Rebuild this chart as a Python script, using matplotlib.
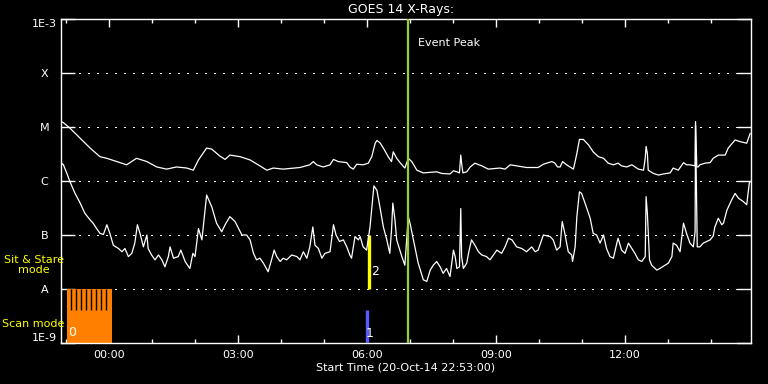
import numpy as np
import matplotlib
matplotlib.use("Agg")
import matplotlib.pyplot as plt
from matplotlib.ticker import FixedLocator, MultipleLocator, NullLocator, FuncFormatter

# time in hours from 00:00 on 21-Oct-14 (start 20-Oct 22:53), flux as log10(W/m^2)
t_start, t_end = -53 / 60 - 14 / 60, 14.93
event_peak = 6.95

# GOES 14 long channel (upper curve)
long_t = [-1.12, -1.06, -0.91, -0.67, -0.44, -0.21, -0.05, 0.18, 0.41, 0.64, 0.88, 1.11, 1.34, 1.57, 1.81,
          1.96, 2.08, 2.27, 2.39, 2.58, 2.70, 2.81, 3.05, 3.28, 3.51,
          3.67, 3.82, 4.05, 4.44, 4.67, 4.75, 4.83, 4.98, 5.14, 5.22, 5.33, 5.53, 5.60, 5.68, 5.76, 5.91,
          6.03, 6.11, 6.19, 6.23, 6.30, 6.38, 6.50, 6.57, 6.61, 6.69, 6.81, 6.88, 6.96, 7.04, 7.16, 7.31,
          7.62, 7.74, 7.93,
          8.01, 8.09, 8.15, 8.18, 8.20, 8.23, 8.32, 8.40, 8.51, 8.67, 8.82, 9.09, 9.21, 9.33, 9.48, 9.71,
          9.98, 10.10, 10.30, 10.37, 10.43, 10.49, 10.55, 10.64, 10.80,
          10.84, 10.88, 10.94, 11.03, 11.15, 11.26, 11.38, 11.50, 11.61, 11.73, 11.84, 11.92, 12.04, 12.16,
          12.31, 12.43, 12.47, 12.49, 12.52, 12.54, 12.66, 12.78, 12.89, 13.05, 13.12, 13.24, 13.36, 13.43,
          13.51, 13.63, 13.64, 13.67, 13.70, 13.74, 13.86, 13.98, 14.05, 14.17, 14.33, 14.40, 14.56, 14.67,
          14.83, 14.91]
long_logf = [-4.90, -4.92, -5.02, -5.21, -5.39, -5.55, -5.58, -5.64, -5.70, -5.58, -5.64, -5.74, -5.78, -5.74,
             -5.76, -5.80, -5.61, -5.39, -5.41, -5.54, -5.60, -5.52, -5.55, -5.61, -5.72,
             -5.80, -5.76, -5.78, -5.75, -5.70, -5.64, -5.70, -5.74, -5.70, -5.60, -5.64, -5.66, -5.74, -5.78,
             -5.69, -5.70, -5.67, -5.55, -5.30, -5.25, -5.29, -5.39, -5.56, -5.64, -5.46, -5.58, -5.70, -5.76,
             -5.58, -5.64, -5.80, -5.85, -5.83, -5.86, -5.87,
             -5.81, -5.83, -5.85, -5.52, -5.67, -5.85, -5.83, -5.74, -5.67, -5.72, -5.78, -5.76, -5.78, -5.70,
             -5.72, -5.75, -5.75, -5.69, -5.64, -5.67, -5.74, -5.74, -5.64, -5.70, -5.78,
             -5.64, -5.49, -5.23, -5.23, -5.33, -5.46, -5.55, -5.58, -5.67, -5.70, -5.67, -5.72, -5.74, -5.70,
             -5.78, -5.80, -5.58, -5.36, -5.49, -5.80, -5.86, -5.89, -5.87, -5.85, -5.76, -5.80, -5.66, -5.70,
             -5.70, -5.72, -4.90, -5.74, -5.74, -5.70, -5.67, -5.66, -5.58, -5.52, -5.52, -5.39, -5.24, -5.27,
             -5.30, -5.12]

# GOES 14 short channel (lower curve)
short_t = [-1.12, -1.06, -0.98, -0.91, -0.79, -0.67, -0.56, -0.44, -0.37, -0.29, -0.21, -0.13, -0.05, 0.02,
           0.10, 0.22, 0.30, 0.37, 0.45, 0.53, 0.60, 0.66, 0.72, 0.80, 0.88, 0.91, 0.99, 1.07, 1.15, 1.23,
           1.30, 1.38, 1.42, 1.50, 1.61, 1.67, 1.77, 1.88, 1.95, 2.00, 2.08, 2.16, 2.27, 2.39, 2.50, 2.62,
           2.70, 2.81, 2.93, 3.09, 3.20, 3.28, 3.36, 3.43, 3.51,
           3.59, 3.70, 3.78, 3.84, 3.90, 3.98, 4.05, 4.13, 4.25, 4.37, 4.44, 4.52, 4.60, 4.67, 4.74, 4.79,
           4.87, 4.95, 5.02, 5.14, 5.22, 5.28, 5.36, 5.45, 5.53, 5.60, 5.64, 5.72, 5.80, 5.84, 5.91, 5.99,
           6.07, 6.16, 6.23, 6.30, 6.38, 6.46, 6.53, 6.57, 6.60, 6.65, 6.69, 6.81, 6.88, 6.96, 7.00, 7.08,
           7.19, 7.31, 7.39, 7.47, 7.54, 7.62, 7.70, 7.77, 7.85, 7.93,
           8.01, 8.05, 8.09, 8.15, 8.18, 8.20, 8.24, 8.32, 8.36, 8.43, 8.51, 8.59, 8.67, 8.78, 8.86, 8.94,
           9.02, 9.13, 9.21, 9.29, 9.37, 9.48, 9.60, 9.71, 9.83, 9.91, 9.98, 10.06, 10.10, 10.26,
           10.33, 10.41, 10.49, 10.54, 10.60, 10.68, 10.76, 10.78, 10.84, 10.88, 10.94, 10.99, 11.07, 11.19,
           11.26, 11.34, 11.42, 11.50, 11.57, 11.65, 11.73, 11.81, 11.84, 11.92, 12.00, 12.08, 12.16, 12.23,
           12.31, 12.39, 12.47, 12.49, 12.52, 12.57, 12.62, 12.74, 12.81, 12.93, 13.01, 13.09, 13.12, 13.20,
           13.28, 13.36, 13.43, 13.51, 13.59, 13.63, 13.64, 13.68, 13.74, 13.82, 13.98, 14.05, 14.09, 14.17,
           14.25, 14.29, 14.37, 14.48, 14.56, 14.64, 14.75, 14.83, 14.89, 14.91]
short_logf = [-5.66, -5.70, -5.86, -6.01, -6.23, -6.41, -6.60, -6.72, -6.78, -6.88, -6.97, -6.99, -6.81, -6.97,
              -7.19, -7.25, -7.31, -7.25, -7.40, -7.34, -7.15, -6.81, -6.97, -7.22, -7.00, -7.25, -7.37, -7.46,
              -7.37, -7.46, -7.59, -7.40, -7.22, -7.43, -7.40, -7.28, -7.49, -7.62, -7.34, -7.40, -6.88, -7.09,
              -6.26, -6.48, -6.78, -6.94, -6.81, -6.66, -6.75, -7.00, -7.00, -7.09, -7.34, -7.46, -7.43,
              -7.52, -7.68, -7.46, -7.28, -7.40, -7.49, -7.43, -7.46, -7.37, -7.40, -7.46, -7.31, -7.43, -7.22,
              -6.85, -7.19, -7.25, -7.43, -7.34, -7.31, -6.81, -7.00, -7.12, -7.09, -7.22, -7.37, -7.43, -7.03,
              -7.09, -7.03, -7.22, -7.28, -6.85, -6.09, -6.17, -6.48, -6.85, -7.09, -7.34, -6.91, -6.41, -6.72,
              -7.09, -7.40, -7.56, -6.66, -6.78, -7.09, -7.52, -7.83, -7.86, -7.65, -7.56, -7.49, -7.59, -7.71,
              -7.62, -7.77,
              -7.28, -7.40, -7.62, -7.59, -6.51, -7.40, -7.62, -7.52, -7.34, -7.09, -7.19, -7.31, -7.37, -7.40,
              -7.46, -7.37, -7.28, -7.34, -7.22, -7.06, -7.09, -7.22, -7.25, -7.31, -7.22, -7.31, -7.28, -7.09,
              -7.00, -7.03,
              -7.09, -7.28, -7.22, -6.75, -6.97, -7.31, -7.37, -7.49, -7.22, -6.66, -6.20, -6.23, -6.41, -6.69,
              -6.97, -7.00, -7.15, -7.00, -7.25, -7.40, -7.43, -7.15, -7.06, -7.28, -7.34, -7.15, -7.25, -7.34,
              -7.46, -7.49, -7.40, -6.29, -6.60, -7.46, -7.56, -7.65, -7.62, -7.56, -7.52, -7.40, -7.15, -7.19,
              -7.31, -6.78, -6.97, -7.15, -7.22, -6.94, -4.96, -7.22, -7.22, -7.15, -7.09, -7.02, -6.85, -6.69,
              -6.81, -6.78, -6.54, -6.35, -6.23, -6.32, -6.38, -6.44, -6.04, -6.01]

# IRIS observing modes
scan_start, scan_end = -0.98, 0.07
scan_gaps = [-0.88, -0.77, -0.65, -0.53, -0.42, -0.30, -0.19, -0.07]
scan_obs = [(6.00, 1e-9, 10 ** -8.39, '1')]
sitstare_obs = [(6.05, 1e-8, 1e-7, '2')]

level_vals = [1e-9, 1e-8, 1e-7, 1e-6, 1e-5, 1e-4, 1e-3]
level_labels = ['1E-9', 'A', 'B', 'C', 'M', 'X', '1E-3']
hour_ticks = [0, 3, 6, 9, 12]

plt.rcParams['font.family'] = 'DejaVu Sans'
plt.rcParams['font.size'] = 8

fig = plt.figure(figsize=(7.68, 3.84), dpi=100, facecolor='black')
ax = fig.add_axes([61 / 768, 41 / 384, 690 / 768, 324 / 384], facecolor='black')

ax.set_yscale('log')
ax.set_xlim(t_start, t_end)
ax.set_ylim(1e-9, 1e-3)

# dotted class lines
for v in level_vals[1:-1]:
    ax.axhline(v, color='white', lw=0.8, ls=(0, (1.2, 6.3)), zorder=1, antialiased=False)

# scan mode block
ax.fill_between([scan_start, scan_end], 1e-9, 1e-8, color='#ff8000', lw=0, zorder=2)
ax.vlines(scan_gaps, 10 ** -8.39, 1e-8, color='black', lw=1.0, zorder=3)
ax.text(-0.86, 10 ** -8.80, '0', color='white', ha='center', va='center', fontsize=9, zorder=4)

for t, lo, hi, lab in scan_obs:
    ax.vlines(t, lo, hi, color='#5a5aff', lw=2.4, zorder=3)
    ax.text(t + 0.07, 10 ** -8.83, lab, color='white', ha='center', va='center', fontsize=9, zorder=4)
for t, lo, hi, lab in sitstare_obs:
    ax.vlines(t, lo, hi, color='#ffff00', lw=2.4, zorder=3)
    ax.text(t + 0.14, 10 ** -7.68, lab, color='white', ha='center', va='center', fontsize=9, zorder=4)

ax.plot(long_t, 10 ** np.array(long_logf), color='white', lw=0.9, zorder=5)
ax.plot(short_t, 10 ** np.array(short_logf), color='white', lw=0.9, zorder=5)

ax.axvline(event_peak, color='#9acd32', lw=1.6, zorder=6)
ax.text(event_peak + 0.24, 10 ** -3.44, 'Event Peak', color='white', ha='left', va='center', fontsize=8)

# axes styling
for sp in ax.spines.values():
    sp.set_color('white')
    sp.set_linewidth(1.0)

ax.xaxis.set_major_locator(FixedLocator(hour_ticks))
ax.xaxis.set_minor_locator(MultipleLocator(1))
ax.xaxis.set_major_formatter(FuncFormatter(lambda x, p: '%02d:00' % x))
ax.tick_params(axis='x', which='major', direction='in', length=6, width=1, color='white',
               labelcolor='white', top=True, pad=5)
ax.tick_params(axis='x', which='minor', direction='in', length=3, width=1, color='white', top=True)

ax.yaxis.set_major_locator(FixedLocator(level_vals))
ax.yaxis.set_minor_locator(NullLocator())
ax.set_yticklabels(level_labels)
ax.tick_params(axis='y', which='major', direction='in', length=10, width=1, color='white',
               labelcolor='white', right=True, pad=12)
for lbl in ax.get_yticklabels():
    lbl.set_ha('center')
ylbls = ax.get_yticklabels()
ylbls[0].set_va('bottom')
ylbls[-1].set_va('top')

ax.set_xlabel('Start Time (20-Oct-14 22:53:00)', color='white', labelpad=2)
fig.text(401 / 768, 1 - 9 / 384, 'GOES 14 X-Rays:', color='white', ha='center', va='center', fontsize=9)

fig.text(34 / 768, 1 - 265 / 384, 'Sit & Stare\nmode', color='#ffff00', ha='center', va='center',
         fontsize=8, linespacing=1.1, zorder=10)
fig.text(2 / 768, 1 - 324 / 384, 'Scan mode', color='#ffff00', ha='left', va='center', fontsize=8)

fig.savefig('out.png', dpi=100, facecolor='black')
